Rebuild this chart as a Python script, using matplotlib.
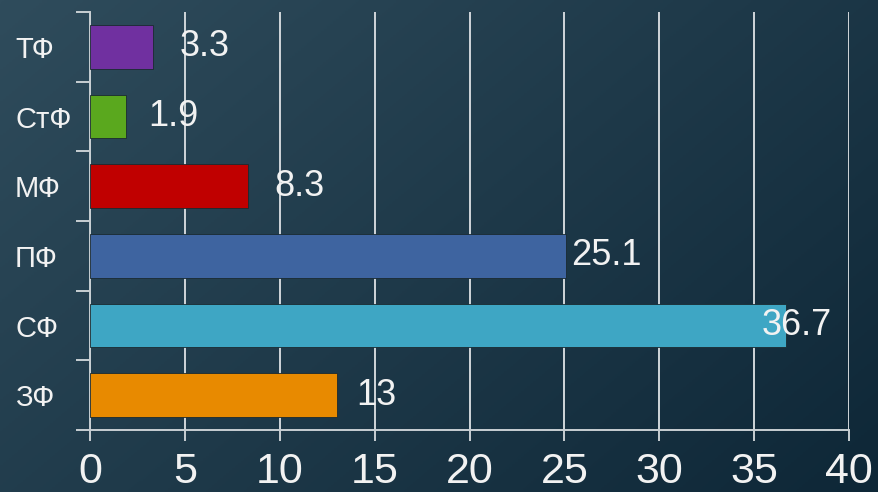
import numpy as np
import matplotlib
matplotlib.use("Agg")
import matplotlib.pyplot as plt
from matplotlib.colors import LinearSegmentedColormap

plt.rcParams['font.family'] = ['Liberation Sans', 'DejaVu Sans']

# data (bottom to top)
categories = ["ЗФ", "СФ", "ПФ", "МФ", "СтФ", "ТФ"]
values = [13, 36.7, 25.1, 8.3, 1.9, 3.3]
value_labels = ["13", "36.7", "25.1", "8.3", "1.9", "3.3"]
bar_colors = ["#e88a00", "#3ea6c4", "#3e64a0", "#c00000", "#5aa81e", "#7030a0"]
label_shift = [1.05, -1.33, 0.27, 1.44, 1.15, 1.44]  # label offset from bar end
xticks = [0, 5, 10, 15, 20, 25, 30, 35, 40]

fig = plt.figure(figsize=(8.79, 4.92), dpi=100)

# diagonal gradient background
bg = fig.add_axes([0, 0, 1, 1], zorder=-1)
gx, gy = np.meshgrid(np.linspace(0, 1, 300), np.linspace(0, 1, 200))
grad = (gx * 0.6 + gy * 0.4)
cmap = LinearSegmentedColormap.from_list("bg", ["#2f4c5c", "#0e2737"])
bg.imshow(grad, cmap=cmap, aspect="auto", extent=[0, 1, 0, 1], origin="upper")
bg.axis("off")

ax = fig.add_axes([0.1024, 0.126, 0.8635, 0.8496])
ax.patch.set_alpha(0)
y = np.arange(len(categories))
ax.barh(y, values, height=0.63, color=bar_colors, edgecolor="#1a2a30",
        linewidth=0.6, zorder=3)

txt = "#f2f2f2"
for yi, v, lab, s in zip(y, values, value_labels, label_shift):
    ax.text(v + s, yi, lab, va="center", ha="left", fontsize=26,
            color=txt, zorder=4)

ax.set_xlim(0, 40)
ax.set_ylim(-0.5, len(categories) - 0.5)
ax.set_xticks(xticks)
ax.set_xticklabels([str(t) for t in xticks])
ax.set_yticks(y)
ax.set_yticklabels(categories, ha="left")
ax.set_yticks(np.arange(-0.5, len(categories), 1), minor=True)

ax.xaxis.grid(True, color="#d0d6da", linewidth=1.4, zorder=0)
ax.set_axisbelow(True)

ax.tick_params(axis="x", labelsize=31, colors="#c8cfd3", labelcolor=txt,
               length=8, width=1.4, direction="out", pad=8)
ax.tick_params(axis="y", which="major", length=0, labelsize=21,
               labelcolor=txt, pad=54)
ax.tick_params(axis="y", which="minor", length=10, width=1.4,
               color="#c8cfd3")

for side in ["top", "right"]:
    ax.spines[side].set_visible(False)
for side in ["left", "bottom"]:
    ax.spines[side].set_color("#c8cfd3")
    ax.spines[side].set_linewidth(1.4)

fig.savefig("out.png", dpi=100)
